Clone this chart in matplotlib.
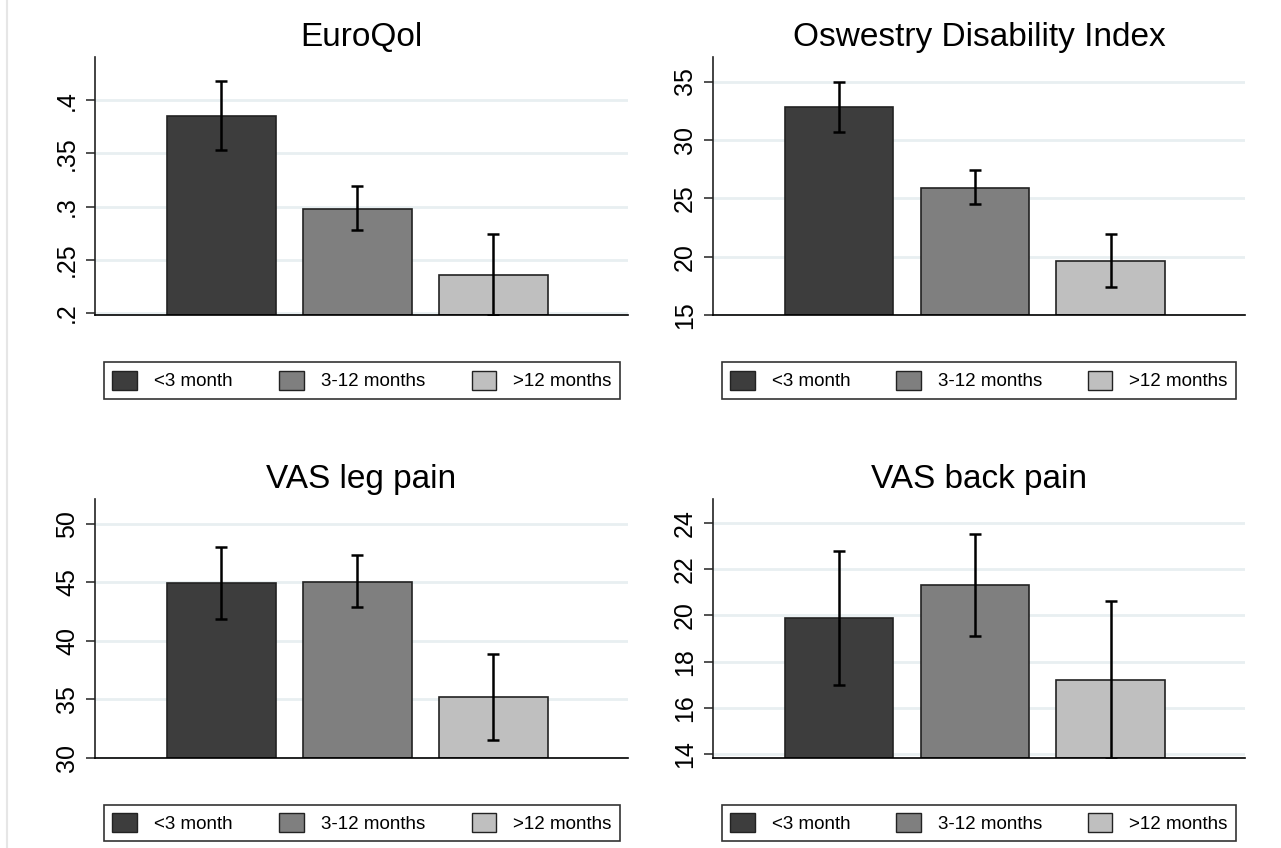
import matplotlib.pyplot as plt
from matplotlib.patches import Patch
from matplotlib.lines import Line2D

plt.rcParams['font.family'] = ['Liberation Sans', 'DejaVu Sans']

groups = ['<3 month', '3-12 months', '>12 months']
colors = ['#3d3d3d', '#7f7f7f', '#bfbfbf']

titles = ['EuroQol', 'Oswestry Disability Index', 'VAS leg pain', 'VAS back pain']

eq_mean = [0.385, 0.298, 0.236]
eq_lo = [0.353, 0.278, 0.198]
eq_hi = [0.418, 0.319, 0.274]

odi_mean = [32.8, 25.9, 19.6]
odi_lo = [30.7, 24.5, 17.4]
odi_hi = [35.0, 27.4, 21.9]

leg_mean = [44.9, 45.0, 35.2]
leg_lo = [41.9, 42.9, 31.5]
leg_hi = [48.0, 47.3, 38.9]

back_mean = [19.87, 21.30, 17.19]
back_lo = [16.99, 19.12, 13.80]
back_hi = [22.76, 23.51, 20.62]

ticks = [[0.2, 0.25, 0.3, 0.35, 0.4], [15, 20, 25, 30, 35],
         [30, 35, 40, 45, 50], [14, 16, 18, 20, 22, 24]]
tick_labels = [['.2', '.25', '.3', '.35', '.4'], None, None, None]
ylims = [(0.198, 0.4406), (15, 37.1), (30, 52.1), (13.83, 25.03)]

data = [(eq_mean, eq_lo, eq_hi), (odi_mean, odi_lo, odi_hi),
        (leg_mean, leg_lo, leg_hi), (back_mean, back_lo, back_hi)]

W, H = 1281, 848
fig = plt.figure(figsize=(W / 100, H / 100), dpi=100)

# axes boxes in pixels: left, top, right, bottom
boxes = [(95, 57, 628, 315), (713, 57, 1245, 315),
         (95, 499, 628, 758), (713, 499, 1245, 758)]
legboxes = [(104, 361, 620, 400), (722, 361, 1236, 400),
            (104, 803, 620, 843), (722, 803, 1236, 843)]

grid_col = '#e8eff1'
x = [1, 2, 3]

for i in range(4):
    l, t, r, b = boxes[i]
    ax = fig.add_axes([l / W, 1 - b / H, (r - l) / W, (b - t) / H])
    mean, lo, hi = data[i]
    y0 = ylims[i][0]
    ax.bar(x, [m - y0 for m in mean], bottom=y0, width=0.8, color=colors,
           edgecolor='#222222', linewidth=1.2, zorder=2)
    yerr = [[m - a for m, a in zip(mean, lo)], [c - m for m, c in zip(mean, hi)]]
    ax.errorbar(x, mean, yerr=yerr, fmt='none', ecolor='black', elinewidth=1.8,
                capsize=4.5, capthick=1.8, zorder=3)
    ax.set_xlim(0.07, 3.99)
    ax.set_ylim(*ylims[i])
    ax.set_yticks(ticks[i])
    if tick_labels[i]:
        ax.set_yticklabels(tick_labels[i])
    ax.tick_params(axis='y', labelsize=18, rotation=90, length=6.5, width=1.1,
                   pad=5, color='#222222')
    for lab in ax.get_yticklabels():
        lab.set_va('center')
    ax.set_xticks([])
    for tk in ticks[i]:
        ax.axhline(tk, color=grid_col, lw=2, zorder=1)
    ax.spines['top'].set_visible(False)
    ax.spines['right'].set_visible(False)
    ax.spines['left'].set_linewidth(1.2)
    ax.spines['bottom'].set_linewidth(1.2)
    ax.spines['left'].set_color('#222222')
    ax.set_title(titles[i], fontsize=24, pad=8)

    lb = legboxes[i]
    handles = [Patch(facecolor=c, edgecolor='#222222', linewidth=1) for c in colors]
    leg = fig.legend(handles, groups, loc='center', ncol=3, mode='expand',
                     bbox_to_anchor=(lb[0] / W, 1 - lb[3] / H,
                                     (lb[2] - lb[0]) / W, (lb[3] - lb[1]) / H),
                     fontsize=13.5, frameon=True, fancybox=False,
                     edgecolor='black', borderaxespad=0, handlelength=1.3,
                     handleheight=1.2, handletextpad=0.9, borderpad=0.45)
    leg.get_frame().set_linewidth(1.2)

fig.add_artist(Line2D([7 / W, 7 / W], [0, 1], color='#e6e6e6', lw=1.5))

fig.savefig('out.png', dpi=100)
